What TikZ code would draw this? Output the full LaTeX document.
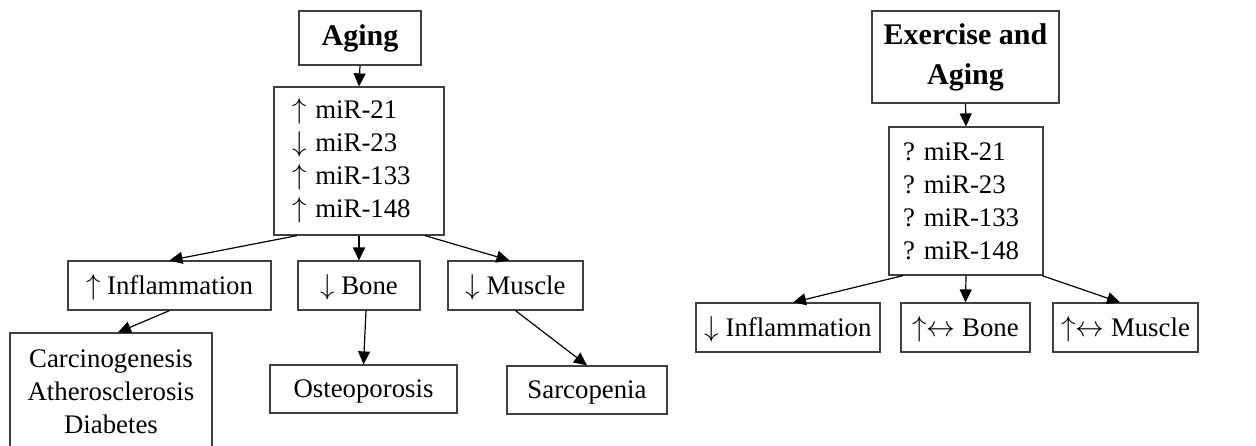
\documentclass[tikz,border=0pt]{standalone}
\usepackage{fontspec}
\setmainfont{Liberation Serif}
\usepackage{tikz}
\usetikzlibrary{arrows.meta,positioning,calc}
\usepackage{xcolor}
\definecolor{boxgray}{RGB}{64,64,64}
\newcommand{\up}{\(\uparrow\)}
\newcommand{\down}{\(\downarrow\)}
\newcommand{\both}{\(\leftrightarrow\)}
\frenchspacing

\begin{document}
\begin{tikzpicture}[x=0.5pt,y=-0.5pt,>={Triangle[length=6.5pt,width=6pt]},
    box/.style={draw=boxgray,line width=0.6pt,inner sep=0pt,minimum height=24.5pt,
        font=\fontsize{13.4}{16.5}\selectfont},
    item/.style={box,text height=11pt,text depth=2.5pt},
    title/.style={box,font=\fontsize{15}{20}\selectfont\bfseries,align=center},
    mirlist/.style={box,align=left,minimum height=74pt},
    link/.style={->,line width=0.6pt}]
    \useasboundingbox (0,0) rectangle (1256,445);

    % aging without exercise
    \node[title,minimum width=61pt,minimum height=27pt] (aging) at (360,38) {Aging};
    \node[mirlist,text width=67pt,inner xsep=9pt] (mirA) at (359,161)
        {\up\ miR-21\\\down\ miR-23\\\up\ miR-133\\\up\ miR-148};
    \node[item,minimum width=101.5pt] (inflA) at (169.5,285.5) {\up\ Inflammation};
    \node[item,minimum width=61pt] (boneA) at (359,285.5) {\down\ Bone};
    \node[item,minimum width=67.5pt] (muscA) at (515.5,285.5) {\down\ Muscle};
    \node[box,minimum width=101pt,minimum height=59pt,align=center] (dis) at (111,392)
        {Carcinogenesis\\Atherosclerosis\\Diabetes};
    \node[item,minimum width=93.5pt,minimum height=24pt] (osteo) at (363.5,389) {Osteoporosis};
    \node[item,minimum width=80pt,minimum height=24pt] (sarco) at (587,390) {Sarcopenia};

    \draw[link] (aging.south) -- (mirA.north);
    \draw[link] ([xshift=-31pt]mirA.south) -- (inflA.north);
    \draw[link] (mirA.south) -- (boneA.north);
    \draw[link] ([xshift=33pt]mirA.south) -- ([xshift=-3pt]muscA.north);
    \draw[link] (inflA.south) -- ([xshift=3.5pt]dis.north);
    \draw[link] ([xshift=3.5pt]boneA.south) -- (osteo.north);
    \draw[link] (muscA.south) -- (sarco.north);

    % exercise and aging
    \node[title,minimum width=93.5pt,minimum height=46pt] (exer) at (965.5,57) {Exercise and\\Aging};
    \node[mirlist,text width=63pt,inner xsep=7pt] (mirB) at (966,201)
        {? miR-21\\? miR-23\\? miR-133\\? miR-148};
    \node[item,minimum width=92pt] (inflB) at (788,327.5) {\down\ Inflammation};
    \node[item,minimum width=64.5pt] (boneB) at (965.5,327.5) {\up\both\ Bone};
    \node[item,minimum width=72.5pt] (muscB) at (1125.5,327.5) {\up\both\ Muscle};

    \draw[link] (exer.south) -- (mirB.north);
    \draw[link] ([xshift=-31.5pt]mirB.south) -- ([xshift=2.5pt]inflB.north);
    \draw[link] (mirB.south) -- (boneB.north);
    \draw[link] ([xshift=38pt]mirB.south) -- ([xshift=-2.75pt]muscB.north);
\end{tikzpicture}
\end{document}
